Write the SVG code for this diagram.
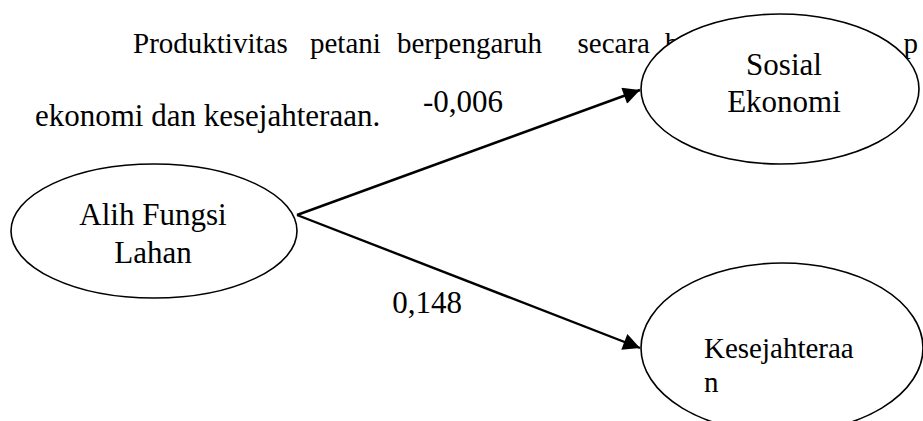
<svg xmlns="http://www.w3.org/2000/svg" width="923" height="421" viewBox="0 0 923 421">
  <style>
    .t { font-family: "Liberation Serif", "Times New Roman", serif; fill: #000; }
    .para { font-size: 29px; }
    .lbl { font-size: 31px; }
    .node ellipse { fill: #fff; stroke: #000; stroke-width: 1.6; }
    .edge { stroke: #000; stroke-width: 2.4; fill: none; }
  </style>
  <defs>
    <marker id="arrow" viewBox="0 0 10 10" refX="10" refY="5" markerWidth="7.5" markerHeight="7" markerUnits="strokeWidth" orient="auto">
      <path d="M0,0 L10,5 L0,10 z" fill="#000"/>
    </marker>
  </defs>
  <rect width="923" height="421" fill="#fff"/>

  <!-- body text behind the diagram -->
  <g id="body-text" class="t para">
    <text x="133" y="53">Produktivitas</text>
    <text x="310" y="53">petani</text>
    <text x="397" y="53">berpengaruh</text>
    <text x="650" y="53" text-anchor="end">secara</text>
    <text x="665" y="53">b</text>
    <text x="918" y="53" text-anchor="end">p</text>
    <text x="35" y="126" font-size="31">ekonomi dan kesejahteraan.</text>
  </g>

  <!-- connectors -->
  <g id="connectors">
    <line class="edge" x1="297" y1="215" x2="640" y2="90" marker-end="url(#arrow)"/>
    <line class="edge" x1="297" y1="215" x2="640" y2="348" marker-end="url(#arrow)"/>
    <text class="t lbl" x="463" y="112" text-anchor="middle">-0,006</text>
    <text class="t lbl" x="427" y="313" text-anchor="middle">0,148</text>
  </g>

  <g id="alih-fungsi-lahan" class="node">
    <ellipse cx="154" cy="231" rx="143" ry="67"/>
    <text class="t lbl" x="153" y="225" text-anchor="middle">Alih Fungsi</text>
    <text class="t lbl" x="153" y="263" text-anchor="middle">Lahan</text>
  </g>

  <g id="sosial-ekonomi" class="node">
    <ellipse cx="780" cy="89" rx="139" ry="75"/>
    <text class="t lbl" x="784" y="75" text-anchor="middle">Sosial</text>
    <text class="t lbl" x="784" y="112" text-anchor="middle">Ekonomi</text>
  </g>

  <g id="kesejahteraan" class="node">
    <ellipse cx="782" cy="348" rx="141" ry="85"/>
    <text class="t" font-size="29" x="704" y="358">Kesejahteraa</text>
    <text class="t" font-size="29" x="704" y="392">n</text>
  </g>
</svg>
